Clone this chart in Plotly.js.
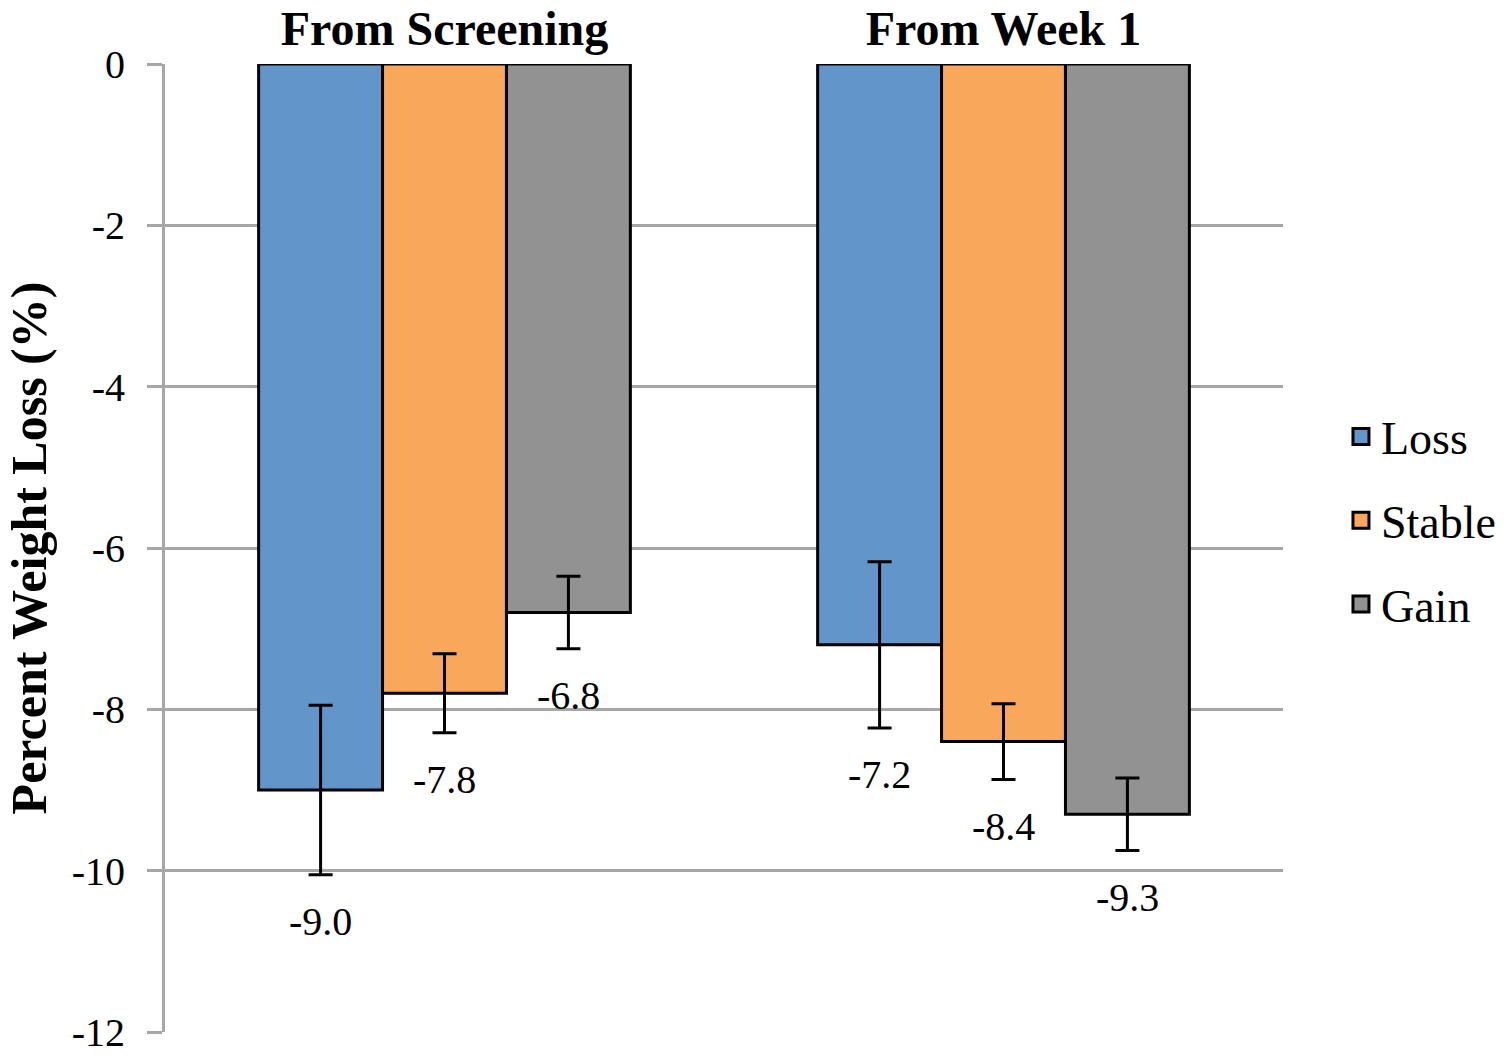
<!DOCTYPE html>
<html>
<head>
<meta charset="utf-8">
<script src="https://cdn.plot.ly/plotly-3.0.1.min.js"></script>
<style>
  html, body { margin: 0; padding: 0; background: #fff; }
  #chart { width: 1504px; height: 1056px; }
</style>
</head>
<body>
<div id="chart"></div>
<script>
"use strict"

// data
var periods = ["From Screening", "From Week 1"];
var groups = ["Loss", "Stable", "Gain"];
var loss_values = [-9.0, -7.2];
var stable_values = [-7.8, -8.4];
var gain_values = [-6.8, -9.3];
var loss_errors = [1.05, 1.03];
var stable_errors = [0.49, 0.47];
var gain_errors = [0.45, 0.45];
var y_ticks = [0, -2, -4, -6, -8, -10, -12];

var colors = ["#6295c9", "#f9a75b", "#929292"];
var serif = "Liberation Serif, Times New Roman, serif";
var bargap = 0.335;

var series_values = [loss_values, stable_values, gain_values];
var series_errors = [loss_errors, stable_errors, gain_errors];

var traces = [];
var annotations = [];
var bar_width = (1 - bargap) / groups.length;

for(var s = 0; s < groups.length; s++) {
    traces.push({
        type: 'bar',
        name: groups[s],
        x: periods,
        y: series_values[s],
        showlegend: false,
        marker: {color: colors[s], line: {color: "#000", width: 3}},
        error_y: {type: 'data', array: series_errors[s], visible: true,
                  color: "#000", thickness: 3, width: 12},
        hoverinfo: 'x+y'
    });

    for(var c = 0; c < periods.length; c++) {
        annotations.push({
            xref: 'x', yref: 'y',
            x: c + (s - (groups.length - 1) / 2) * bar_width,
            y: series_values[s][c] - series_errors[s][c],
            yanchor: 'middle', yshift: -47,
            text: series_values[s][c].toFixed(1),
            showarrow: false,
            font: {family: serif, size: 40, color: "#000"}
        });
    }
}

// legend only entries, bigger squares than the bar legend gives
for(var s = 0; s < groups.length; s++) {
    traces.push({
        type: 'scatter', mode: 'markers',
        name: groups[s],
        x: [null], y: [null],
        legendgroup: groups[s],
        marker: {symbol: 'square', size: 16, color: colors[s], line: {color: "#000", width: 3}},
        hoverinfo: 'skip'
    });
}

var layout = {
    width: 1504,
    height: 1056,
    margin: {l: 165, r: 221, t: 64, b: 24},
    paper_bgcolor: "#fff",
    plot_bgcolor: "#fff",
    barmode: 'group',
    bargap: bargap,
    bargroupgap: 0,
    showlegend: true,
    legend: {
        xref: 'container', yref: 'container',
        x: 0.8916, xanchor: 'left',
        y: 0.507, yanchor: 'middle',
        tracegroupgap: 21,
        font: {family: serif, size: 46, color: "#000"}
    },
    xaxis: {
        side: 'top',
        type: 'category',
        showgrid: false,
        showline: false,
        zeroline: false,
        ticks: '',
        ticklabelstandoff: 8,
        tickfont: {family: serif, size: 48, color: "#000", weight: 'bold'}
    },
    yaxis: {
        range: [-12, 0],
        tickvals: y_ticks,
        ticktext: y_ticks.map(String),
        showgrid: true,
        gridcolor: "#a6a6a6",
        gridwidth: 3,
        zeroline: false,
        showline: true,
        linecolor: "#a6a6a6",
        linewidth: 3,
        ticks: 'outside',
        ticklen: 15,
        tickwidth: 3,
        tickcolor: "#a6a6a6",
        ticklabelstandoff: 14,
        tickfont: {family: serif, size: 40, color: "#000"},
        title: {
            text: "Percent Weight Loss (%)",
            standoff: 10,
            font: {family: serif, size: 50, color: "#000", weight: 'bold'}
        }
    },
    annotations: annotations
};

Plotly.newPlot('chart', traces, layout, {displayModeBar: false, staticPlot: true});
</script>
</body>
</html>
